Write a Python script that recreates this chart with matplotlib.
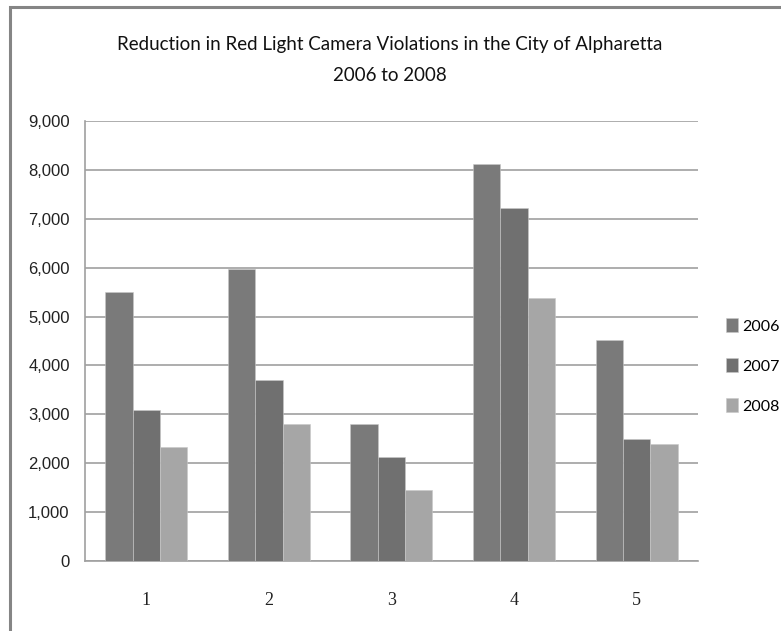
import numpy as np
import matplotlib.pyplot as plt
from matplotlib.patches import Rectangle

categories = ["1", "2", "3", "4", "5"]
years = ["2006", "2007", "2008"]
v2006 = [5500, 5970, 2810, 8120, 4530]
v2007 = [3080, 3700, 2120, 7230, 2490]
v2008 = [2330, 2810, 1450, 5380, 2400]
yticks = [0, 1000, 2000, 3000, 4000, 5000, 6000, 7000, 8000, 9000]

colors = ["#7a7a7a", "#707070", "#a6a6a6"]

fig = plt.figure(figsize=(7.81, 6.31), dpi=100)
ax = fig.add_axes([0.1088, 0.1109, 0.7849, 0.6973])

# outer chart frame
fig.patches.append(Rectangle((10 / 781, -0.05), 1.1, 1 - 7 / 631 + 0.05,
                             transform=fig.transFigure, fill=False,
                             edgecolor="#858585", linewidth=2.2))

x = np.arange(len(categories))
w = 0.223
for i, (vals, c, lab) in enumerate(zip([v2006, v2007, v2008], colors, years)):
    ax.bar(x + (i - 1) * w, vals, width=w, color=c, label=lab,
           edgecolor="#c8c8c8", linewidth=0.4, zorder=3)

ax.set_xlim(-0.5, 4.5)
ax.set_ylim(0, 9000)
ax.set_yticks(yticks)
ax.set_yticklabels([f"{v:,}" for v in yticks], fontsize=12,
                   fontfamily="Liberation Sans", color="#222222")
ax.set_xticks(x)
ax.set_xticklabels(categories, fontsize=13, fontfamily="Liberation Serif",
                   color="#222222")
ax.tick_params(axis="y", length=0, pad=11)
ax.tick_params(axis="x", length=0, pad=22)
ax.yaxis.grid(True, color="#a0a0a0", linewidth=1.2, zorder=0)
for s in ["top", "right"]:
    ax.spines[s].set_visible(False)
for s in ["left", "bottom"]:
    ax.spines[s].set_color("#a0a0a0")
    ax.spines[s].set_linewidth(1.2)

fig.text(0.499, 0.930, "Reduction in Red Light Camera Violations in the City of Alpharetta",
         ha="center", va="center", fontsize=13.5, fontfamily="Lato", color="#111111")
fig.text(0.499, 0.881, "2006 to 2008", ha="center", va="center",
         fontsize=13.5, fontfamily="Lato", color="#111111")

ax.legend(loc="center left", bbox_to_anchor=(0.929, 0.42), bbox_transform=fig.transFigure,
          frameon=False, borderpad=0, borderaxespad=0, handlelength=0.75,
          handleheight=0.95, handletextpad=0.3, labelspacing=1.55,
          prop={"family": "Lato", "size": 11.5})

fig.savefig("out.png", dpi=100, facecolor="white")
